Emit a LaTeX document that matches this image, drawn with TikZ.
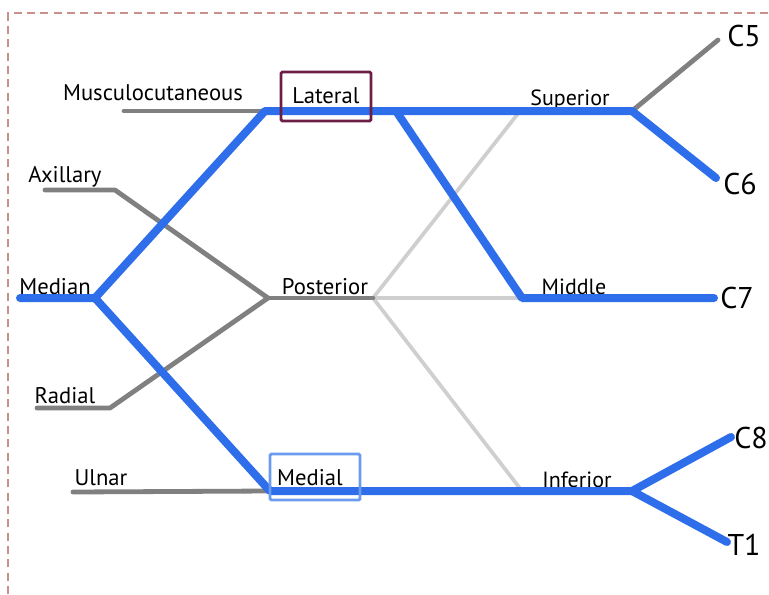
\documentclass[tikz,border=0pt]{standalone}
\usepackage{fontspec}
\setmainfont{PT Sans}
\definecolor{nblue}{HTML}{2F6EEA}
\definecolor{ngray}{HTML}{808080}
\definecolor{nlight}{HTML}{CFCFCF}
\definecolor{latbox}{HTML}{6C1E46}
\definecolor{medbox}{HTML}{6A9BEE}
\definecolor{frame}{HTML}{C9918B}
\begin{document}
\begin{tikzpicture}[x=0.75pt,y=-0.75pt,
  lbl/.style={inner sep=0pt,font=\fontsize{17}{19}\selectfont},
  sml/.style={inner sep=0pt,font=\fontsize{16.5}{18}\selectfont},
  root/.style={inner sep=0pt,font=\fontsize{22.5}{24}\selectfont},
  bluel/.style={nblue,line width=6pt,line cap=round,line join=round},
  grayl/.style={ngray,line width=3.6pt,line cap=round,line join=round},
  lightl/.style={nlight,line width=2.8pt,line cap=round},
  hbox/.style={line width=2.2pt,rounded corners=1pt}]
\useasboundingbox (0,0) rectangle (769,594);
% frame
\draw[frame,line width=1.1pt,dash pattern=on 6pt off 4pt] (8,594) -- (8,13) -- (769,13);
% junctions
\coordinate (jlat) at (265,111);
\coordinate (jmed) at (95,298);
\coordinate (jmedial) at (270,491);
\coordinate (jpost) at (268,298);
\coordinate (jpostr) at (373,298);
\coordinate (jsup) at (632,111);
\coordinate (jsupl) at (520,111);
\coordinate (jmid) at (522,298);
\coordinate (jinf) at (632,491);
\coordinate (jinfl) at (522,491);
\coordinate (jlatb) at (396,111);
\coordinate (emus) at (124,111);
\coordinate (emedian) at (20,298);
\coordinate (eax) at (45,190);
\coordinate (eaxb) at (115,190);
\coordinate (erad) at (37,408);
\coordinate (eradb) at (110,408);
\coordinate (eul) at (73,492);
\coordinate (ec5) at (718,40);
\coordinate (ec6) at (716,178);
\coordinate (ec7) at (714,298);
\coordinate (ec8) at (731,437);
\coordinate (et1) at (727,542);
% labels
\node[lbl] (musc) at (153,93) {Musculocutaneous};
\node[lbl] (lateral) at (326,96) {Lateral};
\node[lbl] (axillary) at (65,177) {Axillary};
\node[lbl] (median) at (55,287) {Median};
\node[lbl] (posterior) at (325,287) {Posterior};
\node[lbl] (radial) at (65,396) {Radial};
\node[lbl] (ulnar) at (101,478) {Ulnar};
\node[lbl] (medial) at (310,478) {Medial};
\node[sml] (superior) at (570,100) {Superior};
\node[sml] (middle) at (574,287) {Middle};
\node[sml] (inferior) at (577,480) {Inferior};
\node[root] (c5) at (744,36) {C5};
\node[root] (c6) at (740,184) {C6};
\node[root] (c7) at (737,298) {C7};
\node[root] (c8) at (751,438) {C8};
\node[root] (t1) at (744,545) {T1};
% light gray divisions
\draw[lightl] (jpostr) -- (jsupl);
\draw[lightl] (jpostr) -- (jmid);
\draw[lightl] (jpostr) -- (jinfl);
% gray nerves
\draw[grayl] (emus) -- (jlat);
\draw[grayl] (eax) -- (eaxb) -- (jpost);
\draw[grayl] (erad) -- (eradb) -- (jpost);
\draw[grayl] (jpost) -- (jpostr);
\draw[grayl] (eul) -- (jmedial);
\draw[grayl] (jsup) -- (ec5);
% blue path
\draw[bluel] (emedian) -- (jmed) -- (jlat) -- (jsup) -- (ec6);
\draw[bluel] (jmed) -- (jmedial) -- (jinf) -- (ec8);
\draw[bluel] (jinf) -- (et1);
\draw[bluel] (jlatb) -- (jmid) -- (ec7);
% boxes
\draw[latbox,hbox] (281,72) rectangle (371,121);
\draw[medbox,hbox] (270,454) rectangle (360,500);
\end{tikzpicture}
\end{document}
